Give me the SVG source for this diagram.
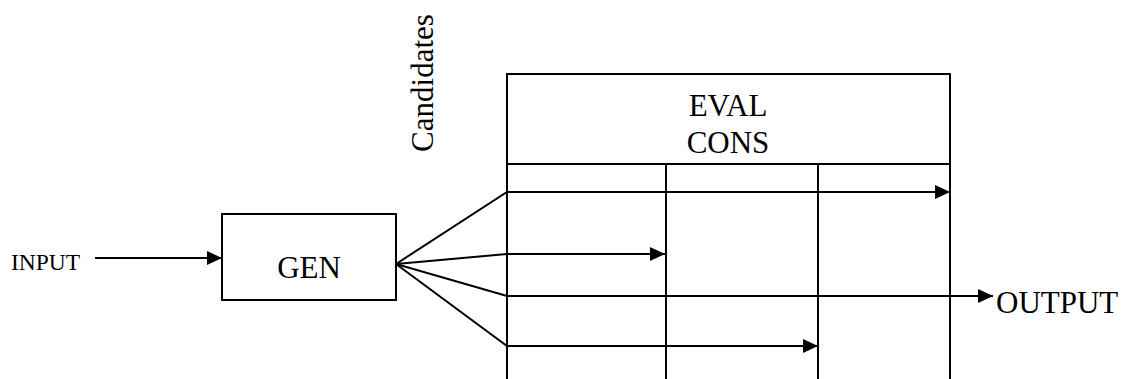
<svg xmlns="http://www.w3.org/2000/svg" width="1124" height="379" viewBox="0 0 1124 379">
<style>
.ln{stroke:#000;stroke-width:2;fill:none}
.bx{stroke:#000;stroke-width:2;fill:#fff}
.t{font-family:"Liberation Serif","Times New Roman",serif;fill:#000}
.big{font-size:31px}
.sm{font-size:23.5px}
</style>
<defs>
<marker id="ah" viewBox="0 0 15 14" refX="15" refY="7" markerWidth="15" markerHeight="14" markerUnits="userSpaceOnUse" orient="auto">
<path d="M0,0 L15,7 L0,14 Z" fill="#000"/>
</marker>
</defs>
<rect width="1124" height="379" fill="#fff"/>
<g id="input-label"><text class="t sm" x="11" y="270">INPUT</text></g>
<g id="gen"><rect class="bx" x="222" y="214" width="174" height="86"/><text class="t big" x="309" y="278" text-anchor="middle">GEN</text></g>
<g id="candidates-label"><text class="t big" transform="translate(433,83) rotate(-90)" text-anchor="middle">Candidates</text></g>
<g id="eval">
<path class="ln" d="M507,379 V74 H950 V379 M507,164 H950 M666,164 V379 M818,164 V379"/>
<text class="t big" x="728" y="116" text-anchor="middle">EVAL</text>
<text class="t big" x="728" y="153" text-anchor="middle">CONS</text>
</g>
<g id="output-label"><text class="t big" x="996" y="313">OUTPUT</text></g>
<g id="connectors">
<line class="ln" x1="95" y1="258" x2="222" y2="258" marker-end="url(#ah)"/>
<polyline class="ln" points="396,264 507,192 950,192" marker-end="url(#ah)"/>
<polyline class="ln" points="396,264 507,254 665,254" marker-end="url(#ah)"/>
<polyline class="ln" points="396,264 507,296 993,296" marker-end="url(#ah)"/>
<polyline class="ln" points="396,264 507,346 818,346" marker-end="url(#ah)"/>
</g>
</svg>
